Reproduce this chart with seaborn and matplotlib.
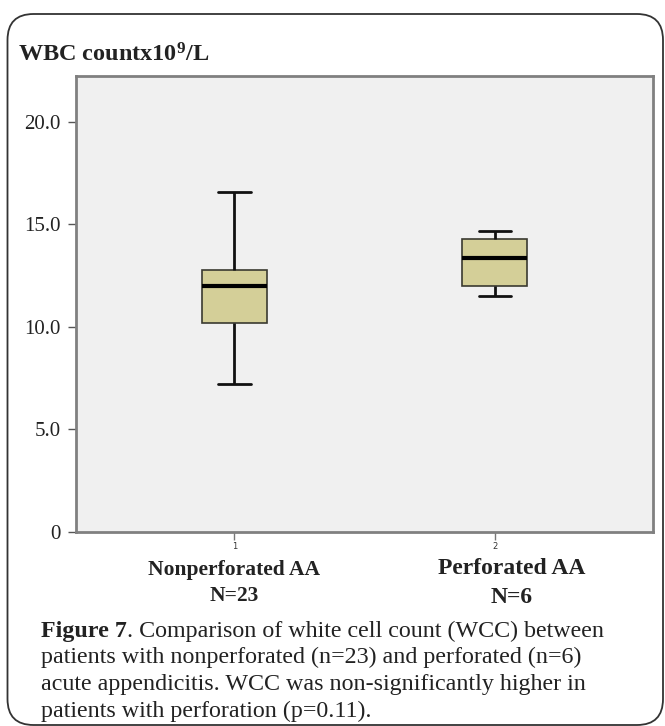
import numpy as np
import pandas as pd
import matplotlib
matplotlib.use("Agg")
import matplotlib.pyplot as plt
import matplotlib.transforms as mtrans
import seaborn as sns
from matplotlib.patches import FancyBboxPatch

# ---- data (five-number summaries) ----
groups = ["Nonperforated AA", "Perforated AA"]
nonperf_vals = [7.2, 10.2, 12.0, 12.8, 16.6]
perf_vals = [11.5, 12.0, 13.35, 14.3, 14.7]
group_n = ["N=23", "N=6"]
tick_nums = ["1", "2"]
ytick_vals = [0, 5, 10, 15, 20]
ytick_labels = ["0", "5.0", "10.0", "15.0", "20.0"]

df = pd.DataFrame({
    "group": [groups[0]] * len(nonperf_vals) + [groups[1]] * len(perf_vals),
    "wbc": nonperf_vals + perf_vals,
})

sns.set_theme(style="white")
plt.rcParams["font.family"] = ["Liberation Serif", "DejaVu Serif"]
plt.rcParams["mathtext.fontset"] = "custom"
plt.rcParams["mathtext.rm"] = "Liberation Serif"
plt.rcParams["mathtext.bf"] = "Liberation Serif:bold"
plt.rcParams["mathtext.it"] = "Liberation Serif:italic"

W, H = 665, 726
fig = plt.figure(figsize=(W / 100, H / 100), dpi=100)
fig.patch.set_facecolor("white")
TXT = "#222222"

# outer rounded frame (inches)
frame = FancyBboxPatch((0.075, 0.01), (663 - 7.5) / 100, (725 - 14) / 100,
                       boxstyle="round,pad=0,rounding_size=0.26",
                       transform=fig.dpi_scale_trans, fill=False,
                       edgecolor="#333333", linewidth=1.3)
fig.patches.append(frame)

ax_l, ax_r, ax_t, ax_b = 76, 653, 76, 532
ax = fig.add_axes([ax_l / W, 1 - ax_b / H, (ax_r - ax_l) / W, (ax_b - ax_t) / H])
ax.set_facecolor("#f0f0f0")

sns.boxplot(data=df, x="group", y="wbc", order=groups, ax=ax, whis=np.inf,
            width=0.25, color="#d4cf98", saturation=1, linewidth=1.2,
            linecolor="#222222",
            boxprops=dict(edgecolor="#3a3a30", linewidth=1.2),
            whiskerprops=dict(color="#111111", linewidth=2),
            capprops=dict(color="#111111", linewidth=2),
            medianprops=dict(color="#000000", linewidth=3),
            capwidths=0.125, showfliers=False)

ax.set_xlim(-0.608, 1.607)
ax.set_ylim(0, 22.24)
ax.set_yticks(ytick_vals)
ax.set_yticklabels(ytick_labels, fontsize=15, color=TXT)
ax.set_xticks([0, 1])
ax.set_xticklabels(tick_nums, fontsize=6, family="DejaVu Sans", color="#333333")
ax.tick_params(axis="y", direction="out", length=6, width=1, color="#555555",
               left=True, pad=5)
ax.tick_params(axis="x", direction="out", length=6, width=1, color="#777777",
               bottom=True, pad=1)
ax.set_xlabel("")
ax.set_ylabel("")
for s in ax.spines.values():
    s.set_visible(True)
    s.set_color("#808080")
    s.set_linewidth(2)

# title
fig.text(18 / W, 1 - 62 / H, r"$\mathbf{WBC\ countx10^{9}/L}$", fontsize=17.5,
         ha="left", va="baseline", color=TXT)

# category labels (x in data units, y in figure units)
bt = mtrans.blended_transform_factory(ax.transData, fig.transFigure)
fig.text(0, 1 - 575 / H, groups[0], transform=bt, ha="center", va="baseline",
         fontsize=15.5, fontweight="bold", color=TXT)
fig.text(0, 1 - 601 / H, group_n[0], transform=bt, ha="center", va="baseline",
         fontsize=15.5, fontweight="bold", color=TXT)
fig.text(1.063, 1 - 574 / H, groups[1], transform=bt, ha="center", va="baseline",
         fontsize=17, fontweight="bold", color=TXT)
fig.text(1.063, 1 - 603 / H, group_n[1], transform=bt, ha="center", va="baseline",
         fontsize=17, fontweight="bold", color=TXT)

# caption
cap_x = 41 / W
lines = [
    "Comparison of white cell count (WCC) between",
    "patients with nonperforated (n=23) and perforated (n=6)",
    "acute appendicitis. WCC was non-significantly higher in",
    "patients with perforation (p=0.11).",
]
CFS = 17.3
bold = fig.text(cap_x, 1 - 637 / H, "Figure 7", fontsize=CFS, fontweight="bold",
                ha="left", va="baseline", color=TXT)
fig.canvas.draw()
ax.annotate(". " + lines[0], xy=(1, 0), xycoords=bold, fontsize=CFS,
            ha="left", va="bottom", color=TXT, annotation_clip=False)
for i, ln in enumerate(lines[1:], start=1):
    fig.text(cap_x, 1 - (637 + 26.5 * i) / H, ln, fontsize=CFS, ha="left",
             va="baseline", color=TXT)

fig.savefig("out.png", dpi=100, facecolor="white")
